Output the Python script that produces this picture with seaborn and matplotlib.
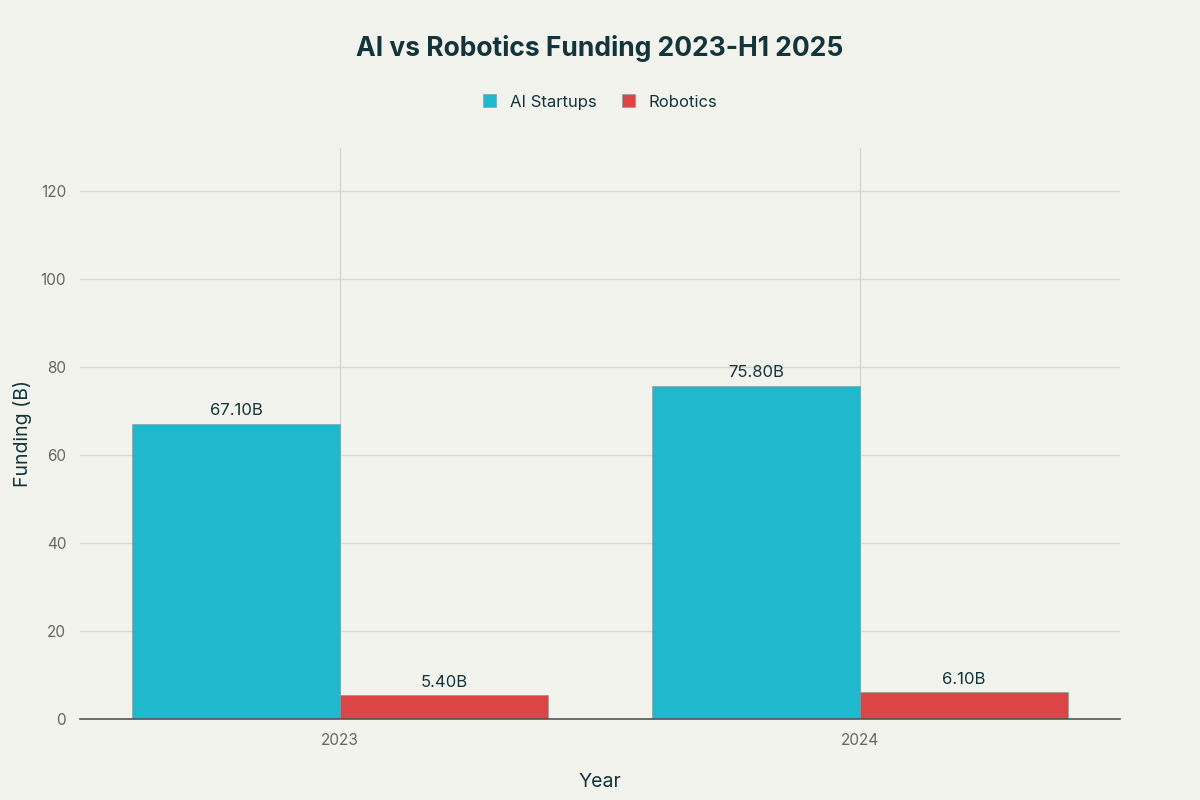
import matplotlib
matplotlib.use("Agg")
import matplotlib.pyplot as plt
import seaborn as sns
import pandas as pd

years = ["2023", "2024"]
series_names = ["AI Startups", "Robotics"]
ai_values = [67.1, 75.8]
robotics_values = [5.4, 6.1]
colors = ["#1FB8CD", "#DB4545"]

df = pd.DataFrame({
    "Year": years * 2,
    "Funding": ai_values + robotics_values,
    "Series": [series_names[0]] * 2 + [series_names[1]] * 2,
})

sns.set_theme(style="white")
plt.rcParams["font.family"] = ["Inter", "DejaVu Sans"]

bg = "#F3F3EE"
fig = plt.figure(figsize=(12, 8), dpi=100, facecolor=bg)
ax = fig.add_axes([0.0667, 0.10125, 0.8666, 0.71375])
ax.set_facecolor(bg)

sns.barplot(data=df, x="Year", y="Funding", hue="Series", order=years,
            hue_order=series_names, palette=colors, saturation=1, width=0.8,
            edgecolor="#7a9a9e", linewidth=0.4, ax=ax, legend=True)

for cont in ax.containers:
    ax.bar_label(cont, labels=[f"{v:.2f}B" for v in cont.datavalues],
                 padding=4, fontsize=12, color="#13343B")

ax.set_xlim(-0.5, 1.5)
ax.set_ylim(0, 129.8)
ax.set_yticks([0, 20, 40, 60, 80, 100, 120])
ax.grid(axis="y", color="#D9D9D4", linewidth=1)
ax.grid(axis="x", color="#D0D0CB", linewidth=0.8)
ax.set_axisbelow(True)
for s in ["top", "right", "left"]:
    ax.spines[s].set_visible(False)
ax.spines["bottom"].set_color("#555555")
ax.spines["bottom"].set_linewidth(1.2)
ax.tick_params(axis="x", length=0, labelsize=11, labelcolor="#666666", pad=10)
ax.tick_params(axis="y", length=0, labelsize=11, labelcolor="#666666", pad=10)
ax.set_xlabel("Year", fontsize=14, color="#13343B", labelpad=18)
ax.set_ylabel("Funding (B)", fontsize=14, color="#13343B", labelpad=6)

leg = ax.legend(loc="center", bbox_to_anchor=(0.5, (800 - 102) / 800),
                bbox_transform=fig.transFigure, ncol=2, frameon=False,
                fontsize=12, handlelength=0.8, handleheight=0.8,
                columnspacing=1.5, handletextpad=0.8)
for t in leg.get_texts():
    t.set_color("#13343B")

fig.text(0.5, (800 - 48) / 800, "AI vs Robotics Funding 2023-H1 2025",
         ha="center", va="center", fontsize=19, fontweight="bold", color="#13343B")

fig.savefig("out.png", dpi=100, facecolor=bg)
